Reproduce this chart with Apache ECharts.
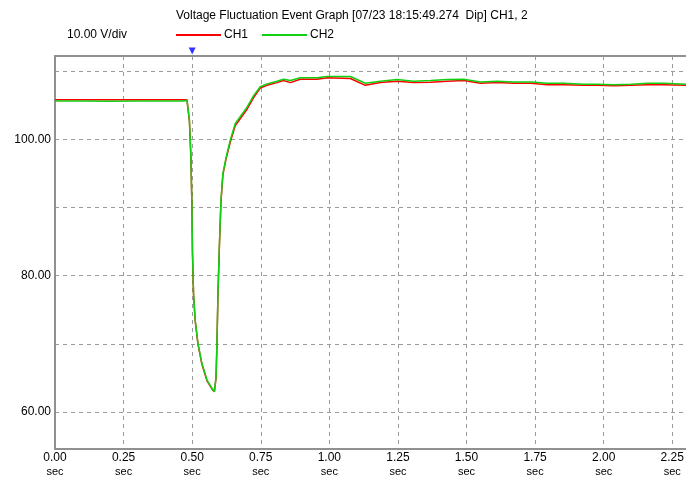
<!DOCTYPE html>
<html>
<head>
<meta charset="utf-8">
<script src="https://cdn.jsdelivr.net/npm/echarts@6/dist/echarts.min.js"></script>
<style>
  html, body { margin: 0; padding: 0; background: #fff; }
  #chart { width: 686px; height: 478px; }
</style>
</head>
<body>
<div id="chart"></div>
<script>
// 时间 (sec)
const timeSec = [0, 0.1, 0.2, 0.3, 0.4, 0.47,
  0.481, 0.49, 0.495, 0.499, 0.501,
  0.505, 0.511, 0.521, 0.535, 0.554,
  0.572, 0.581, 0.587, 0.59, 0.594,
  0.599, 0.605, 0.612, 0.624, 0.639,
  0.657, 0.675, 0.7, 0.724, 0.748,
  0.773, 0.809, 0.833, 0.858, 0.894,
  0.955, 0.992, 1.077, 1.131, 1.186,
  1.247, 1.307, 1.369, 1.43, 1.49,
  1.551, 1.612, 1.672, 1.734, 1.795,
  1.855, 1.927, 1.977, 2.037, 2.099,
  2.16, 2.22, 2.3]
const ch1 = [105.8, 105.8, 105.8, 105.8, 105.8, 105.8,
  105.8, 102.6, 97.7, 90.4, 83.5,
  77.2, 73.4, 70.0, 67.1, 64.6,
  63.4, 63.0, 65.0, 69.4, 77.2,
  84.0, 90.9, 94.8, 97.2, 99.6,
  102.0, 103.0, 104.4, 106.1, 107.5,
  107.9, 108.3, 108.6, 108.3, 108.8,
  108.8, 109.0, 108.9, 107.9, 108.3,
  108.5, 108.3, 108.35, 108.5, 108.6,
  108.2, 108.3, 108.2, 108.2, 108.0,
  108.0, 107.9, 107.9, 107.85, 107.9,
  108.0, 108.0, 107.9]
const ch2 = [105.6, 105.6, 105.55, 105.6, 105.6, 105.6,
  105.7, 102.8, 97.9, 90.6, 83.7,
  77.4, 73.5, 70.1, 67.2, 64.7,
  63.5, 63.0, 65.2, 69.6, 77.4,
  84.2, 91.1, 95.0, 97.4, 99.9,
  102.3, 103.3, 104.7, 106.4, 107.7,
  108.1, 108.5, 108.8, 108.6, 109.0,
  109.0, 109.2, 109.2, 108.2, 108.5,
  108.75, 108.5, 108.6, 108.75, 108.8,
  108.4, 108.5, 108.4, 108.4, 108.2,
  108.2, 108.05, 108.05, 108.0, 108.05,
  108.2, 108.2, 108.05]
const yLabels = [60, 80, 100]
const yGrid = [60, 70, 80, 90, 100, 110]
const triggerTime = [0.5]

const pair = (xs, ys) => xs.map((x, i) => [x, ys[i]])
const font = 'Liberation Sans'
const yMin = 54.6
const yMax = 112.2

const myChart = echarts.init(document.getElementById('chart'))
const option = {
  animation: false,
  textStyle: { fontFamily: font, color: '#000' },
  title: [
    {
      text: 'Voltage Fluctuation Event Graph [07/23 18:15:49.274  Dip] CH1, 2',
      left: 171,
      top: 5,
      textStyle: { fontSize: 12, fontWeight: 'normal', color: '#000', fontFamily: font }
    },
    {
      text: '10.00 V/div',
      left: 62,
      top: 24,
      textStyle: { fontSize: 12, fontWeight: 'normal', color: '#000', fontFamily: font }
    }
  ],
  legend: {
    left: 171,
    top: 24,
    icon: 'rect',
    itemWidth: 45,
    itemHeight: 2,
    itemGap: 14,
    textStyle: { fontSize: 12, color: '#000', fontFamily: font, padding: [0, 0, 0, -2] },
    data: ['CH1', 'CH2']
  },
  grid: { left: 55, top: 56, right: 0, bottom: 29, outerBoundsMode: 'none', containLabel: false },
  xAxis: [
    {
      type: 'value',
      min: 0,
      max: 2.3,
      interval: 0.25,
      axisLine: { show: true, lineStyle: { color: '#909090', width: 2 } },
      axisTick: { show: false },
      axisLabel: {
        showMaxLabel: false,
        margin: 3,
        fontSize: 12,
        lineHeight: 12,
        color: '#000',
        formatter: v => v.toFixed(2) + '\n{s|sec}',
        rich: { s: { fontSize: 11, lineHeight: 14, color: '#000', fontFamily: font, padding: [2, 0, 0, 0] } }
      },
      splitLine: { show: true, lineStyle: { color: '#9a9a9a', type: [4, 4], width: 1 } }
    },
    {
      type: 'value',
      position: 'top',
      min: 0,
      max: 2.3,
      interval: 0.25,
      axisLine: { show: true, lineStyle: { color: '#909090', width: 2 } },
      axisTick: { show: false },
      axisLabel: { show: false },
      splitLine: { show: false }
    }
  ],
  yAxis: {
    type: 'value',
    min: yMin,
    max: yMax,
    axisLine: { show: true, lineStyle: { color: '#909090', width: 2 } },
    axisTick: { show: false, customValues: yGrid },
    axisLabel: {
      customValues: yLabels,
      margin: 4,
      fontSize: 12,
      color: '#000',
      formatter: v => v.toFixed(2)
    },
    splitLine: { show: true, lineStyle: { color: '#9a9a9a', type: [4, 4], width: 1 } }
  },
  series: [
    {
      name: 'CH1',
      type: 'line',
      color: '#ff0000',
      showSymbol: false,
      lineStyle: { width: 1.5 },
      data: pair(timeSec, ch1)
    },
    {
      name: 'CH2',
      type: 'line',
      color: '#11d011',
      showSymbol: false,
      lineStyle: { width: 1.5 },
      data: pair(timeSec, ch2)
    },
    {
      name: 'trigger',
      type: 'scatter',
      clip: false,
      silent: true,
      symbol: 'triangle',
      symbolRotate: 180,
      symbolSize: [7, 7],
      symbolOffset: [0, -5],
      itemStyle: { color: '#0000ff' },
      data: triggerTime.map(t => [t, yMax])
    }
  ]
}
myChart.setOption(option)
window.addEventListener('resize', () => {
  myChart.resize()
})
</script>
</body>
</html>
